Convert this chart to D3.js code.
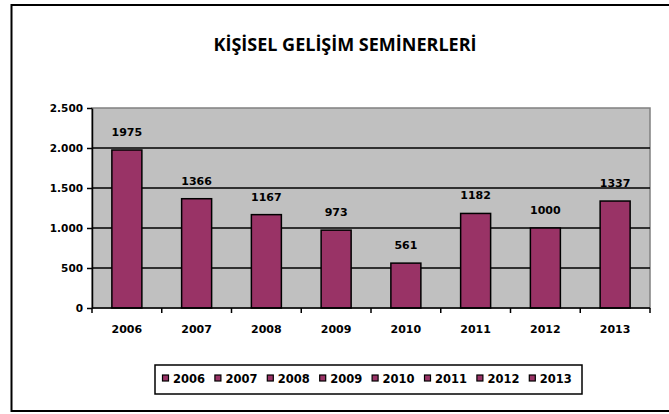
<!DOCTYPE html>
<html><head><meta charset="utf-8">
<script src="https://cdn.jsdelivr.net/npm/d3@7"></script>
<style>body{margin:0;background:#fff}svg{display:block}</style>
</head><body>
<script>
const categories = ["2006","2007","2008","2009","2010","2011","2012","2013"];
const values = [1975,1366,1167,973,561,1182,1000,1337];
const yTicks = [0,500,1000,1500,2000,2500];
const title = "KİŞİSEL GELİŞİM SEMİNERLERİ";

(function(){
const W=669,H=414;
const svg=d3.select("body").append("svg").attr("width",W).attr("height",H);
svg.append("rect").attr("width",W).attr("height",H).attr("fill","#fff");
// outer border
svg.append("rect").attr("x",11.5).attr("y",5).attr("width",700).attr("height",406)
  .attr("fill","none").attr("stroke","#000").attr("stroke-width",2);

const pL=92,pR=650,pT=108,pB=308;
const x=d3.scaleBand().domain(categories).range([pL,pR]);
const y=d3.scaleLinear().domain([0,2500]).range([pB,pT]);
const fmt=d=>d3.format(",")(d).replace(/,/g,".");

svg.append("rect").attr("x",pL).attr("y",pT).attr("width",pR-pL).attr("height",pB-pT)
  .attr("fill","#c0c0c0").attr("stroke","#808080").attr("stroke-width",1.5);

// gridlines
svg.append("g").selectAll("line").data(yTicks.filter(d=>d>0&&d<2500)).join("line")
  .attr("x1",pL).attr("x2",pR).attr("y1",d=>y(d)).attr("y2",d=>y(d))
  .attr("stroke","#000").attr("stroke-width",1.5);

const bw=30;
svg.append("g").selectAll("rect").data(values).join("rect")
  .attr("x",(d,i)=>x(categories[i])+x.bandwidth()/2-bw/2)
  .attr("y",d=>y(d)).attr("width",bw).attr("height",d=>pB-y(d))
  .attr("fill","#993366").attr("stroke","#000").attr("stroke-width",1.5);

svg.append("g").selectAll("text").data(values).join("text")
  .attr("x",(d,i)=>x(categories[i])+x.bandwidth()/2)
  .attr("y",d=>y(d)-14).attr("text-anchor","middle")
  .attr("font-family","DejaVu Sans").attr("font-weight","bold").attr("font-size",11)
  .text(d=>d);

// y axis
const ya=svg.append("g").attr("transform",`translate(${pL},0)`)
  .call(d3.axisLeft(y).tickValues(yTicks).tickSize(5).tickSizeOuter(0).tickFormat(fmt));
ya.select(".domain").attr("stroke","#000").attr("stroke-width",1.5);
ya.selectAll(".tick line").attr("stroke","#000").attr("stroke-width",1.5);
ya.selectAll("text").attr("font-family","DejaVu Sans").attr("font-weight","bold").attr("font-size",10.5).attr("fill","#000").attr("x",-9);

// x axis
const xa=svg.append("g").attr("transform",`translate(0,${pB})`);
xa.append("line").attr("x1",pL).attr("x2",pR).attr("stroke","#000").attr("stroke-width",1.5);
const bounds=categories.map(c=>x(c)).concat([pR]);
xa.selectAll(".tk").data(bounds).join("line").attr("class","tk")
  .attr("x1",d=>d).attr("x2",d=>d).attr("y1",0).attr("y2",5).attr("stroke","#000").attr("stroke-width",1.5);
xa.selectAll(".lb").data(categories).join("text").attr("class","lb")
  .attr("x",d=>x(d)+x.bandwidth()/2).attr("y",25).attr("text-anchor","middle")
  .attr("font-family","DejaVu Sans").attr("font-weight","bold").attr("font-size",11).text(d=>d);

svg.append("text").attr("x",345).attr("y",51).attr("text-anchor","middle")
  .attr("font-family","Open Sans").attr("font-weight","bold").attr("font-size",18).text(title);

// legend
svg.append("rect").attr("x",155).attr("y",365).attr("width",427).attr("height",29)
  .attr("fill","#fff").attr("stroke","#000").attr("stroke-width",1.5);
const lg=svg.append("g");
const step=52.4;
categories.forEach((c,i)=>{
  const gx=162.5+i*step;
  lg.append("rect").attr("x",gx).attr("y",375).attr("width",6).attr("height",6)
    .attr("fill","#993366").attr("stroke","#000").attr("stroke-width",1.2);
  lg.append("text").attr("x",gx+10.5).attr("y",383).attr("font-family","DejaVu Sans")
    .attr("font-weight","bold").attr("font-size",11.5).text(c);
});
})();
</script>
</body></html>
